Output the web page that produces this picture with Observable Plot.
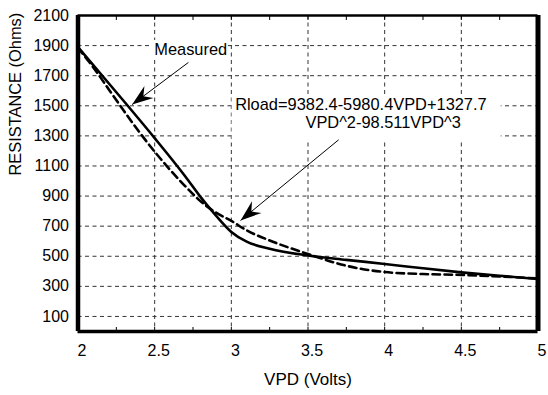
<!DOCTYPE html>
<html>
<head>
<meta charset="utf-8">
<script src="https://cdn.jsdelivr.net/npm/d3@7"></script>
<script src="https://cdn.jsdelivr.net/npm/@observablehq/plot@0.6"></script>
<style>
  html, body { margin: 0; padding: 0; background: #fff; }
  #chart svg { font-family: "Liberation Sans", Arial, Helvetica, sans-serif; }
</style>
</head>
<body>
<div id="chart"></div>
<script>
// Measured curve (solid)
const vpdMeasured = [2.0, 2.25, 2.5, 2.7, 2.8, 2.9, 3.0, 3.1, 3.25, 3.5, 3.75, 4.0, 4.25, 4.5, 4.75, 5.0];
const resMeasured = [1890, 1590, 1285, 1030, 893, 770, 662, 597, 550, 505, 476, 449, 420, 393, 370, 349];
// Polynomial fit curve (dashed)
const vpdFit = [2.0, 2.1, 2.2, 2.3, 2.4, 2.5, 2.6, 2.7, 2.8, 2.9, 3.0, 3.1, 3.25, 3.5, 3.75, 4.0, 4.25, 4.5, 4.75, 5.0];
const resFit = [1885, 1755, 1610, 1465, 1325, 1195, 1075, 965, 865, 790, 735, 672, 605, 515, 437, 395, 382, 376, 366, 352];

// Axis ticks
const xTickLabels = [2, 2.5, 3, 3.5, 4, 4.5, 5];
const xGrid = [2.5, 3, 3.5, 4, 4.5];
const xMinorTicks = [2.25, 2.5, 2.75, 3, 3.25, 3.5, 3.75, 4, 4.25, 4.5, 4.75];
const yTickLabels = [100, 300, 500, 700, 900, 1100, 1300, 1500, 1700, 1900, 2100];
const yGrid = [100, 300, 500, 700, 900, 1100, 1300, 1500, 1700, 1900];

// Text
const xLabel = "VPD (Volts)";
const yLabel = "RESISTANCE (Ohms)";
const noteTexts = ["Measured", "Rload=9382.4-5980.4VPD+1327.7", "VPD^2-98.511VPD^3"];
const noteX = [2.735, 3.845, 3.99];
const noteY = [1874, 1510, 1388];
// white boxes behind annotations
const boxX1 = [2.479, 3.005];
const boxX2 = [2.98, 4.76];
const boxY1 = [1801, 1276];
const boxY2 = [1934, 1555];
// annotation arrows
const arrowX1 = [2.72, 3.70];
const arrowY1 = [1788, 1274];
const arrowX2 = [2.353, 3.06];
const arrowY2 = [1508, 738];

const measured = vpdMeasured.map((v, i) => ({vpd: v, r: resMeasured[i]}));
const fit = vpdFit.map((v, i) => ({vpd: v, r: resFit[i]}));
const notes = noteTexts.map((t, i) => ({t, x: noteX[i], y: noteY[i]}));
const boxes = boxX1.map((x1, i) => ({x1, x2: boxX2[i], y1: boxY1[i], y2: boxY2[i]}));
const arrows = arrowX1.map((x1, i) => ({x1, y1: arrowY1[i], x2: arrowX2[i], y2: arrowY2[i]}));

const FS = 16;      // tick labels
const FA = 16.4;    // annotations and y title

const chart = Plot.plot({
  width: 548,
  height: 395,
  marginLeft: 77.5,
  marginRight: 10.5,
  marginTop: 15,
  marginBottom: 64,
  style: {fontSize: FS + "px", fontFamily: '"Liberation Sans", Arial, Helvetica, sans-serif', color: "#000", background: "#fff"},
  x: {domain: [2, 5]},
  y: {domain: [0, 2100]},
  marks: [
    // grid
    Plot.ruleX(xGrid, {stroke: "#333", strokeWidth: 1, strokeDasharray: "4,3.5"}),
    Plot.ruleY(yGrid, {stroke: "#333", strokeWidth: 1, strokeDasharray: "4,3.5"}),
    // inward ticks
    Plot.axisX(xMinorTicks, {anchor: "bottom", tickSize: -4, text: null, label: null, stroke: "#000"}),
    Plot.axisX(xMinorTicks, {anchor: "top", tickSize: -4, text: null, label: null, stroke: "#000"}),
    // tick labels
    Plot.axisX(xTickLabels, {anchor: "bottom", tickSize: 0, tickPadding: 13, dx: 4, label: null, fontSize: FS, tickFormat: d => String(d)}),
    Plot.axisY(yTickLabels, {anchor: "left", tickSize: 0, tickPadding: 9, label: null, fontSize: FS, tickFormat: d => String(d)}),
    // axis titles
    Plot.text([xLabel], {frameAnchor: "bottom", dy: 53, fontSize: 17, fill: "#000"}),
    Plot.text([yLabel], {frameAnchor: "left", dx: -62, dy: 2, rotate: -90, fontSize: FA, fill: "#000"}),
    // white boxes behind annotations
    Plot.rect(boxes, {x1: "x1", x2: "x2", y1: "y1", y2: "y2", fill: "#fff"}),
    // curves
    Plot.line(fit, {x: "vpd", y: "r", stroke: "#000", strokeWidth: 2.6, strokeDasharray: "7.5,4.5", curve: "monotone-x"}),
    Plot.line(measured, {x: "vpd", y: "r", stroke: "#000", strokeWidth: 2.6, curve: "monotone-x"}),
    // annotation arrows
    Plot.link(arrows, {x1: "x1", y1: "y1", x2: "x2", y2: "y2", stroke: "#000", strokeWidth: 1, className: "annot-arrow"}),
    // annotation text
    Plot.text(notes, {x: "x", y: "y", text: "t", fontSize: FA, fill: "#000"}),
    // frame
    Plot.ruleX([2], {stroke: "#000", strokeWidth: 4.5}),
    Plot.ruleX([5], {stroke: "#000", strokeWidth: 5}),
    Plot.ruleY([0], {stroke: "#000", strokeWidth: 3.5, x1: 2, x2: 5}),
    Plot.ruleY([2100], {stroke: "#000", strokeWidth: 2.5, x1: 2, x2: 5})
  ]
});

// filled barbed arrowheads for the annotation arrows
const ns = "http://www.w3.org/2000/svg";
const defs = document.createElementNS(ns, "defs");
const marker = document.createElementNS(ns, "marker");
marker.setAttribute("id", "barbhead");
marker.setAttribute("markerUnits", "userSpaceOnUse");
marker.setAttribute("viewBox", "-22 -10 24 20");
marker.setAttribute("markerWidth", "24");
marker.setAttribute("markerHeight", "20");
marker.setAttribute("refX", "0");
marker.setAttribute("refY", "0");
marker.setAttribute("orient", "auto");
const head = document.createElementNS(ns, "path");
head.setAttribute("d", "M0,0 L-21,-7.5 L-14,0 L-21,7.5 Z");
head.setAttribute("fill", "#000");
marker.appendChild(head);
defs.appendChild(marker);
chart.insertBefore(defs, chart.firstChild);
chart.querySelectorAll(".annot-arrow path").forEach(p => p.setAttribute("marker-end", "url(#barbhead)"));

document.getElementById("chart").appendChild(chart);
</script>
</body>
</html>
